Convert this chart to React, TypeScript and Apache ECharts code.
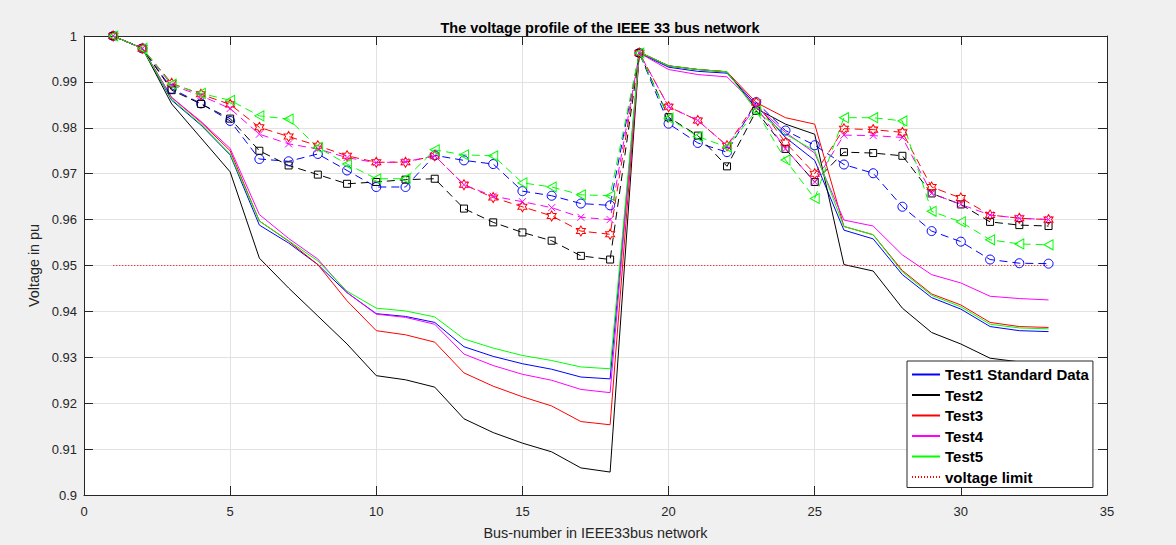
import React, { useEffect, useRef } from "react";
import * as echarts from "echarts";

const BUS = [1, 2, 3, 4, 5, 6, 7, 8, 9, 10, 11, 12, 13, 14, 15, 16, 17, 18, 19, 20, 21, 22, 23, 24, 25, 26, 27, 28, 29, 30, 31, 32, 33];

// Solid lines (legend entries)
const TEST1 = [1.0, 0.9973, 0.9860, 0.9806, 0.9741, 0.9588, 0.9549, 0.9502, 0.9441, 0.9395, 0.9389, 0.9376, 0.9323, 0.9302, 0.9286, 0.9274, 0.9257, 0.9253, 0.9963, 0.9932, 0.9923, 0.9919, 0.9850, 0.9779, 0.9729, 0.9577, 0.9558, 0.9480, 0.9430, 0.9405, 0.9367, 0.9358, 0.9356];
const TEST2 = [1.0, 0.9973, 0.9852, 0.9778, 0.9704, 0.9516, 0.9451, 0.9390, 0.9329, 0.9260, 0.9251, 0.9235, 0.9166, 0.9136, 0.9113, 0.9094, 0.9059, 0.9050, 0.9965, 0.9935, 0.9927, 0.9922, 0.9842, 0.9808, 0.9786, 0.9502, 0.9488, 0.9407, 0.9354, 0.9329, 0.9298, 0.9290, 0.9288];
const TEST3 = [1.0, 0.9973, 0.9866, 0.9812, 0.9750, 0.9597, 0.9553, 0.9502, 0.9423, 0.9358, 0.9349, 0.9333, 0.9266, 0.9237, 0.9214, 0.9194, 0.9160, 0.9153, 0.9965, 0.9935, 0.9927, 0.9922, 0.9855, 0.9822, 0.9808, 0.9585, 0.9567, 0.9489, 0.9438, 0.9414, 0.9376, 0.9367, 0.9365];
const TEST4 = [1.0, 0.9973, 0.9866, 0.9814, 0.9755, 0.9611, 0.9559, 0.9514, 0.9441, 0.9394, 0.9387, 0.9372, 0.9307, 0.9282, 0.9263, 0.9250, 0.9230, 0.9223, 0.9963, 0.9927, 0.9916, 0.9911, 0.9848, 0.9790, 0.9745, 0.9599, 0.9586, 0.9523, 0.9480, 0.9462, 0.9433, 0.9428, 0.9425];
const TEST5 = [1.0, 0.9973, 0.9862, 0.9808, 0.9743, 0.9597, 0.9554, 0.9510, 0.9444, 0.9407, 0.9401, 0.9388, 0.9340, 0.9320, 0.9304, 0.9293, 0.9279, 0.9275, 0.9965, 0.9935, 0.9927, 0.9922, 0.9837, 0.9786, 0.9750, 0.9585, 0.9567, 0.9486, 0.9435, 0.9410, 0.9372, 0.9364, 0.9362];

// Dashed lines with markers
const TEST1_DG = [1.0, 0.9973, 0.9885, 0.9853, 0.9815, 0.9732, 0.9727, 0.9743, 0.9707, 0.9671, 0.9671, 0.9740, 0.9729, 0.9721, 0.9662, 0.9652, 0.9635, 0.9631, 0.9963, 0.9809, 0.9767, 0.9747, 0.9856, 0.9794, 0.9762, 0.9720, 0.9701, 0.9628, 0.9575, 0.9552, 0.9513, 0.9505, 0.9504];
const TEST2_DG = [1.0, 0.9973, 0.9882, 0.9852, 0.9820, 0.9750, 0.9718, 0.9698, 0.9678, 0.9682, 0.9687, 0.9689, 0.9624, 0.9594, 0.9572, 0.9554, 0.9521, 0.9513, 0.9963, 0.9823, 0.9783, 0.9716, 0.9837, 0.9754, 0.9682, 0.9747, 0.9745, 0.9739, 0.9657, 0.9633, 0.9595, 0.9588, 0.9586];
const TEST3_DG = [1.0, 0.9973, 0.9897, 0.9873, 0.9851, 0.9801, 0.9781, 0.9761, 0.9739, 0.9725, 0.9725, 0.9739, 0.9676, 0.9648, 0.9628, 0.9608, 0.9575, 0.9568, 0.9963, 0.9846, 0.9816, 0.9761, 0.9855, 0.9768, 0.9700, 0.9798, 0.9796, 0.9790, 0.9671, 0.9647, 0.9610, 0.9603, 0.9600];
const TEST4_DG = [1.0, 0.9973, 0.9893, 0.9870, 0.9842, 0.9786, 0.9765, 0.9754, 0.9735, 0.9724, 0.9726, 0.9739, 0.9676, 0.9651, 0.9639, 0.9626, 0.9605, 0.9600, 0.9963, 0.9846, 0.9816, 0.9761, 0.9846, 0.9754, 0.9682, 0.9784, 0.9783, 0.9779, 0.9657, 0.9633, 0.9610, 0.9603, 0.9600];
const TEST5_DG = [1.0, 0.9973, 0.9895, 0.9875, 0.9860, 0.9826, 0.9819, 0.9757, 0.9721, 0.9689, 0.9689, 0.9752, 0.9741, 0.9739, 0.9680, 0.9671, 0.9654, 0.9652, 0.9963, 0.9821, 0.9781, 0.9758, 0.9837, 0.9730, 0.9646, 0.9822, 0.9822, 0.9815, 0.9618, 0.9595, 0.9556, 0.9547, 0.9545];

const VOLTAGE_LIMIT = 0.95;

const TITLE = "The voltage profile of the IEEE 33 bus network";
const X_NAME = "Bus-number in IEEE33bus network";
const Y_NAME = "Voltage in pu";
const LEGEND_NAMES = ["Test1 Standard Data", "Test2", "Test3", "Test4", "Test5", "voltage limit"];

const FONT = "'Liberation Sans', Arial, Helvetica, sans-serif";
const AXIS_COLOR = "#262626";
const GRID_COLOR = "#e2e2e2";

function hexagramPath(): string {
  const R = 10;
  const r = R / Math.sqrt(3);
  const pts: string[] = [];
  for (let i = 0; i < 12; i++) {
    const a = -Math.PI / 2 + (i * Math.PI) / 6;
    const rad = i % 2 === 0 ? R : r;
    const x = 10 + rad * Math.cos(a);
    const y = 10 + rad * Math.sin(a);
    pts.push((i === 0 ? "M" : "L") + x.toFixed(3) + "," + y.toFixed(3));
  }
  return "path://" + pts.join(" ") + " Z";
}

const pairs = (vals: number[]) => BUS.map((b, i) => [b, vals[i]]);

function solid(name: string, vals: number[], color: string) {
  return {
    name,
    type: "line",
    data: pairs(vals),
    symbol: "none",
    silent: true,
    lineStyle: { color, width: 1 },
    itemStyle: { color },
    emphasis: { disabled: true },
    z: 2,
  };
}

function dashed(name: string, vals: number[], color: string, symbol: string, size: number | number[]) {
  return {
    name,
    type: "line",
    data: pairs(vals),
    symbol,
    symbolSize: size,
    showSymbol: true,
    silent: true,
    lineStyle: { color, width: 1, type: [8, 5] },
    itemStyle: { color: "rgba(0,0,0,0)", borderColor: color, borderWidth: 1 },
    emphasis: { disabled: true },
    z: 3,
  };
}

export default function App() {
  const ref = useRef<HTMLDivElement>(null);

  useEffect(() => {
    if (!ref.current) return;
    const chart = echarts.init(ref.current, undefined, { renderer: "svg" });

    const yFmt = (v: number) => String(parseFloat(v.toFixed(2)));

    const option: any = {
      animation: false,
      backgroundColor: "#f0f0f0",
      title: {
        text: TITLE,
        left: 595,
        top: 15,
        textAlign: "center",
        textStyle: { fontFamily: FONT, fontSize: 14.5, fontWeight: "bold", color: "#000" },
      },
      grid: {
        left: 84,
        right: 69,
        top: 36,
        bottom: 46,
        show: true,
        backgroundColor: "#ffffff",
        borderWidth: 0,
      },
      xAxis: [
        {
          type: "value",
          min: 0,
          max: 35,
          interval: 5,
          position: "bottom",
          name: X_NAME,
          nameLocation: "middle",
          nameGap: 31,
          nameTextStyle: { fontFamily: FONT, fontSize: 14.4, color: AXIS_COLOR },
          axisLine: { show: true, onZero: false, lineStyle: { color: AXIS_COLOR, width: 1 } },
          axisTick: { show: true, inside: true, length: 9, lineStyle: { color: AXIS_COLOR } },
          axisLabel: { fontFamily: FONT, fontSize: 13, color: AXIS_COLOR, margin: 10 },
          splitLine: { show: true, lineStyle: { color: GRID_COLOR, width: 1 } },
        },
        {
          type: "value",
          min: 0,
          max: 35,
          interval: 5,
          position: "top",
          axisLine: { show: true, onZero: false, lineStyle: { color: AXIS_COLOR, width: 1 } },
          axisTick: { show: true, inside: true, length: 9, lineStyle: { color: AXIS_COLOR } },
          axisLabel: { show: false },
          splitLine: { show: false },
        },
      ],
      yAxis: [
        {
          type: "value",
          min: 0.9,
          max: 1,
          interval: 0.01,
          position: "left",
          name: Y_NAME,
          nameLocation: "middle",
          nameGap: 29,
          nameTextStyle: { fontFamily: FONT, fontSize: 14.4, color: AXIS_COLOR },
          axisLine: { show: true, onZero: false, lineStyle: { color: AXIS_COLOR, width: 1 } },
          axisTick: { show: true, inside: true, length: 9, lineStyle: { color: AXIS_COLOR } },
          axisLabel: { fontFamily: FONT, fontSize: 13, color: AXIS_COLOR, margin: 7, formatter: yFmt },
          splitLine: { show: true, lineStyle: { color: GRID_COLOR, width: 1 } },
        },
        {
          type: "value",
          min: 0.9,
          max: 1,
          interval: 0.01,
          position: "right",
          axisLine: { show: true, onZero: false, lineStyle: { color: AXIS_COLOR, width: 1 } },
          axisTick: { show: true, inside: true, length: 9, lineStyle: { color: AXIS_COLOR } },
          axisLabel: { show: false },
          splitLine: { show: false },
        },
      ],
      legend: {
        data: LEGEND_NAMES,
        orient: "vertical",
        left: 907,
        top: 361,
        padding: [6, 4, 3, 4],
        itemWidth: 28,
        itemHeight: 15,
        itemGap: 5.5,
        backgroundColor: "#ffffff",
        borderColor: AXIS_COLOR,
        borderWidth: 1,
        borderRadius: 0,
        selectedMode: false,
        itemStyle: { color: "rgba(0,0,0,0)", borderWidth: 0, opacity: 0 },
        textStyle: { fontFamily: FONT, fontSize: 15, fontWeight: "bold", color: "#000" },
      },
      series: [
        solid("Test1 Standard Data", TEST1, "#0000ff"),
        solid("Test2", TEST2, "#000000"),
        solid("Test3", TEST3, "#ff0000"),
        solid("Test4", TEST4, "#ff00ff"),
        solid("Test5", TEST5, "#00ff00"),
        {
          name: "voltage limit",
          type: "line",
          data: BUS.map((b) => [b, VOLTAGE_LIMIT]),
          symbol: "none",
          silent: true,
          lineStyle: { color: "#ff0000", width: 1, type: [1, 2] },
          itemStyle: { color: "#ff0000" },
          emphasis: { disabled: true },
          z: 2,
        },
        dashed("Test1 DG", TEST1_DG, "#0000ff", "circle", 9),
        dashed("Test2 DG", TEST2_DG, "#000000", "rect", 7),
        dashed("Test3 DG", TEST3_DG, "#ff0000", hexagramPath(), [9, 10]),
        dashed("Test4 DG", TEST4_DG, "#ff00ff", "path://M0,0 L10,10 M10,0 L0,10", 7),
        dashed("Test5 DG", TEST5_DG, "#00ff00", "path://M0,5 L10,0 L10,10 Z", [9, 10]),
      ],
    };

    chart.setOption(option);
    return () => chart.dispose();
  }, []);

  return (
    <div
      ref={ref}
      style={{ position: "fixed", left: 0, top: 0, width: 1176, height: 545 }}
    />
  );
}
